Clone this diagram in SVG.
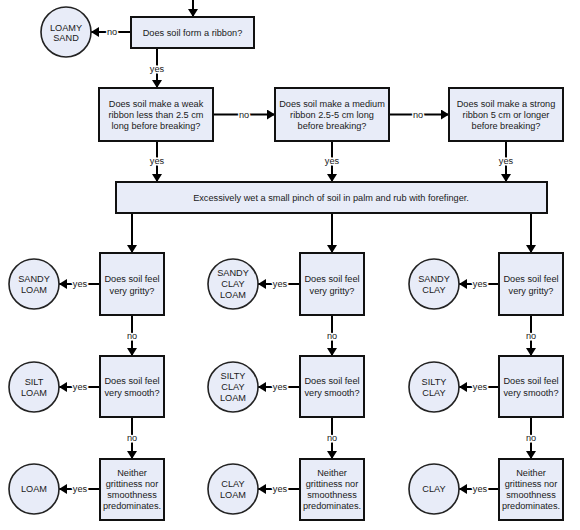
<svg xmlns="http://www.w3.org/2000/svg" width="580" height="530" viewBox="0 0 580 530">
<defs>
<marker id="ah" viewBox="0 0 8 10" markerWidth="8" markerHeight="10" refX="8" refY="5" orient="auto" markerUnits="userSpaceOnUse">
<path d="M0,0 L8,5 L0,10 z" fill="#000"/>
</marker>
</defs>
<style>
.box{fill:#e8ecf8;stroke:#111;stroke-width:2}
.circ{fill:#e8ecf8;stroke:#222;stroke-width:1.6}
.t{font-family:"Liberation Sans",Arial,sans-serif;font-size:9.2px;fill:#1a1a1a;text-anchor:middle}
.c{stroke:#000;stroke-width:2;fill:none;marker-end:url(#ah)}
.lbl{font-family:"Liberation Sans",Arial,sans-serif;font-size:9.2px;fill:#1a1a1a;text-anchor:middle;stroke:#fff;stroke-width:3;paint-order:stroke}
</style>
<rect width="580" height="530" fill="#fff"/>
<g id="connectors">
<line class="c" x1="193" y1="0" x2="193" y2="17"/>
<line class="c" x1="131" y1="32" x2="91" y2="32"/>
<line class="c" x1="157" y1="48" x2="157" y2="88"/>
<line class="c" x1="213" y1="114.5" x2="275" y2="114.5"/>
<line class="c" x1="389" y1="114.5" x2="449" y2="114.5"/>
<line class="c" x1="157" y1="141" x2="157" y2="182"/>
<line class="c" x1="332" y1="141" x2="332" y2="182"/>
<line class="c" x1="506" y1="141" x2="506" y2="182"/>
<line class="c" x1="132" y1="213" x2="132" y2="253"/>
<line class="c" x1="332" y1="213" x2="332" y2="253"/>
<line class="c" x1="531" y1="213" x2="531" y2="253"/>
<line class="c" x1="132" y1="315" x2="132" y2="356"/>
<line class="c" x1="332" y1="315" x2="332" y2="356"/>
<line class="c" x1="531" y1="315" x2="531" y2="356"/>
<line class="c" x1="132" y1="417" x2="132" y2="459"/>
<line class="c" x1="332" y1="417" x2="332" y2="459"/>
<line class="c" x1="531" y1="417" x2="531" y2="459"/>
<line class="c" x1="100" y1="284" x2="59" y2="284"/>
<line class="c" x1="300" y1="284" x2="258" y2="284"/>
<line class="c" x1="499" y1="284" x2="459" y2="284"/>
<line class="c" x1="100" y1="387" x2="59" y2="387"/>
<line class="c" x1="300" y1="387" x2="258" y2="387"/>
<line class="c" x1="499" y1="387" x2="459" y2="387"/>
<line class="c" x1="100" y1="489" x2="59" y2="489"/>
<line class="c" x1="300" y1="489" x2="258" y2="489"/>
<line class="c" x1="499" y1="489" x2="459" y2="489"/>
<text class="lbl" x="112" y="35">no</text>
<text class="lbl" x="157" y="72">yes</text>
<text class="lbl" x="244" y="117.5">no</text>
<text class="lbl" x="418" y="117.5">no</text>
<text class="lbl" x="157" y="164">yes</text>
<text class="lbl" x="332" y="164">yes</text>
<text class="lbl" x="506" y="164">yes</text>
<text class="lbl" x="132" y="339">no</text>
<text class="lbl" x="332" y="339">no</text>
<text class="lbl" x="531" y="339">no</text>
<text class="lbl" x="132" y="441">no</text>
<text class="lbl" x="332" y="441">no</text>
<text class="lbl" x="531" y="441">no</text>
<text class="lbl" x="80" y="287">yes</text>
<text class="lbl" x="280" y="287">yes</text>
<text class="lbl" x="480" y="287">yes</text>
<text class="lbl" x="80" y="390">yes</text>
<text class="lbl" x="280" y="390">yes</text>
<text class="lbl" x="480" y="390">yes</text>
<text class="lbl" x="80" y="492">yes</text>
<text class="lbl" x="280" y="492">yes</text>
<text class="lbl" x="480" y="492">yes</text>
</g>
<g id="ribbon">
<rect class="box" x="131" y="17" width="123" height="31"/>
<text class="t" x="192.5" y="35.5">Does soil form a ribbon?</text>
</g>
<g id="loamy-sand">
<circle class="circ" cx="66" cy="32" r="25"/>
<text class="t" x="66" y="31">LOAMY</text>
<text class="t" x="66" y="41">SAND</text>
</g>
<g id="weak">
<rect class="box" x="99" y="88" width="114" height="53"/>
<text class="t" x="156" y="107">Does soil make a weak</text>
<text class="t" x="156" y="118">ribbon less than 2.5 cm</text>
<text class="t" x="156" y="129">long before breaking?</text>
</g>
<g id="medium">
<rect class="box" x="275" y="88" width="114" height="53"/>
<text class="t" x="332" y="107">Does soil make a medium</text>
<text class="t" x="332" y="118">ribbon 2.5-5 cm long</text>
<text class="t" x="332" y="129">before breaking?</text>
</g>
<g id="strong">
<rect class="box" x="449" y="88" width="114" height="53"/>
<text class="t" x="506" y="107">Does soil make a strong</text>
<text class="t" x="506" y="118">ribbon 5 cm or longer</text>
<text class="t" x="506" y="129">before breaking?</text>
</g>
<g id="wet">
<rect class="box" x="116" y="182" width="431" height="31"/>
<text class="t" x="331" y="200.5">Excessively wet a small pinch of soil in palm and rub with forefinger.</text>
</g>
<g id="gritty1">
<rect class="box" x="100" y="253" width="64" height="62"/>
<text class="t" x="132" y="282">Does soil feel</text>
<text class="t" x="132" y="294">very gritty?</text>
</g>
<g id="gritty2">
<rect class="box" x="300" y="253" width="64" height="62"/>
<text class="t" x="332" y="282">Does soil feel</text>
<text class="t" x="332" y="294">very gritty?</text>
</g>
<g id="gritty3">
<rect class="box" x="499" y="253" width="64" height="62"/>
<text class="t" x="531" y="282">Does soil feel</text>
<text class="t" x="531" y="294">very gritty?</text>
</g>
<g id="smooth1">
<rect class="box" x="100" y="356" width="64" height="61"/>
<text class="t" x="132" y="384">Does soil feel</text>
<text class="t" x="132" y="396">very smooth?</text>
</g>
<g id="smooth2">
<rect class="box" x="300" y="356" width="64" height="61"/>
<text class="t" x="332" y="384">Does soil feel</text>
<text class="t" x="332" y="396">very smooth?</text>
</g>
<g id="smooth3">
<rect class="box" x="499" y="356" width="64" height="61"/>
<text class="t" x="531" y="384">Does soil feel</text>
<text class="t" x="531" y="396">very smooth?</text>
</g>
<g id="neither1">
<rect class="box" x="100" y="459" width="64" height="61"/>
<text class="t" x="132" y="476">Neither</text>
<text class="t" x="132" y="487">grittiness nor</text>
<text class="t" x="132" y="498">smoothness</text>
<text class="t" x="132" y="509">predominates.</text>
</g>
<g id="neither2">
<rect class="box" x="300" y="459" width="64" height="61"/>
<text class="t" x="332" y="476">Neither</text>
<text class="t" x="332" y="487">grittiness nor</text>
<text class="t" x="332" y="498">smoothness</text>
<text class="t" x="332" y="509">predominates.</text>
</g>
<g id="neither3">
<rect class="box" x="499" y="459" width="64" height="61"/>
<text class="t" x="531" y="476">Neither</text>
<text class="t" x="531" y="487">grittiness nor</text>
<text class="t" x="531" y="498">smoothness</text>
<text class="t" x="531" y="509">predominates.</text>
</g>
<g id="sandy-loam">
<circle class="circ" cx="34" cy="284" r="25"/>
<text class="t" x="34" y="282">SANDY</text>
<text class="t" x="34" y="293">LOAM</text>
</g>
<g id="sandy-clay-loam">
<circle class="circ" cx="233" cy="284" r="25"/>
<text class="t" x="233" y="276">SANDY</text>
<text class="t" x="233" y="287">CLAY</text>
<text class="t" x="233" y="298">LOAM</text>
</g>
<g id="sandy-clay">
<circle class="circ" cx="434" cy="284" r="25"/>
<text class="t" x="434" y="282">SANDY</text>
<text class="t" x="434" y="293">CLAY</text>
</g>
<g id="silt-loam">
<circle class="circ" cx="34" cy="387" r="25"/>
<text class="t" x="34" y="385">SILT</text>
<text class="t" x="34" y="396">LOAM</text>
</g>
<g id="silty-clay-loam">
<circle class="circ" cx="233" cy="387" r="25"/>
<text class="t" x="233" y="379">SILTY</text>
<text class="t" x="233" y="390">CLAY</text>
<text class="t" x="233" y="401">LOAM</text>
</g>
<g id="silty-clay">
<circle class="circ" cx="434" cy="387" r="25"/>
<text class="t" x="434" y="385">SILTY</text>
<text class="t" x="434" y="396">CLAY</text>
</g>
<g id="loam">
<circle class="circ" cx="34" cy="489" r="25"/>
<text class="t" x="34" y="492">LOAM</text>
</g>
<g id="clay-loam">
<circle class="circ" cx="233" cy="489" r="25"/>
<text class="t" x="233" y="487">CLAY</text>
<text class="t" x="233" y="498">LOAM</text>
</g>
<g id="clay">
<circle class="circ" cx="434" cy="489" r="25"/>
<text class="t" x="434" y="492">CLAY</text>
</g>
</svg>
